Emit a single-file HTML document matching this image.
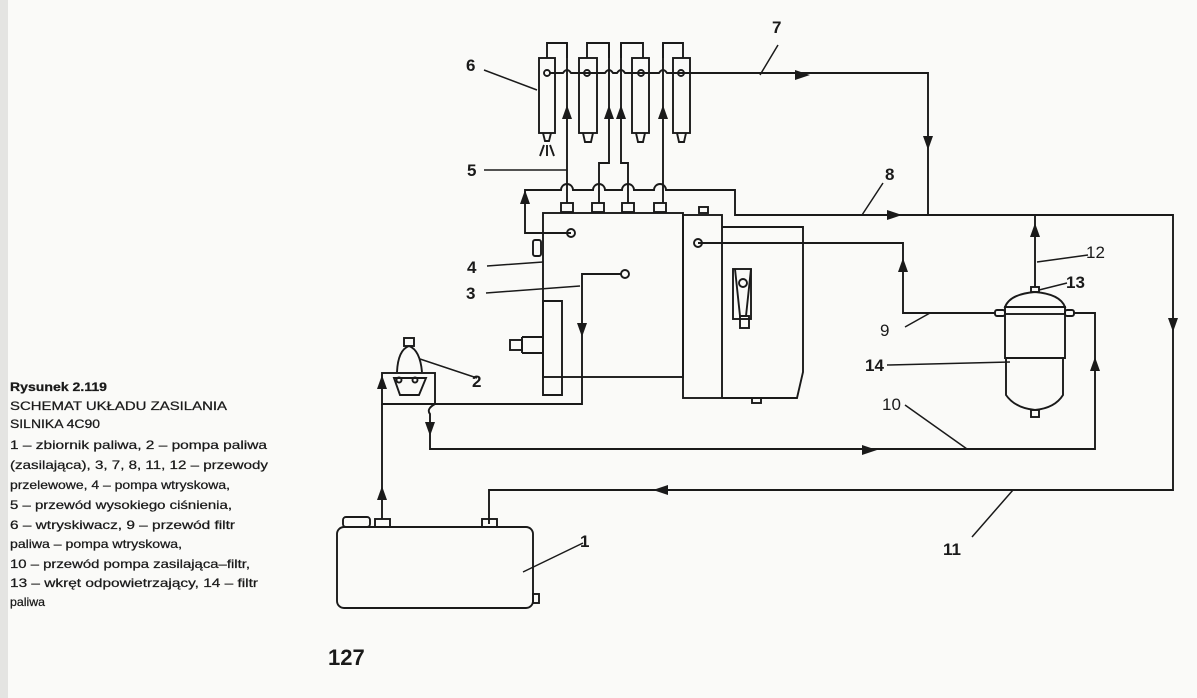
<!DOCTYPE html>
<html><head><meta charset="utf-8"><style>
html,body{margin:0;padding:0;background:#fafaf8;}
svg{display:block;}
text{font-family:"Liberation Sans",sans-serif;fill:#1a1a1a;}
</style></head><body>
<svg width="1197" height="698" viewBox="0 0 1197 698" xmlns="http://www.w3.org/2000/svg">
<rect x="0" y="0" width="1197" height="698" fill="#fafaf8"/>
<rect x="0" y="0" width="8" height="698" fill="#e4e4e2"/>
<g fill="none" stroke="#1a1a1a" stroke-width="1.9">
<!-- injectors -->
<rect x="539" y="58" width="16" height="75"/>
<rect x="579" y="58" width="18" height="75"/>
<rect x="632" y="58" width="17" height="75"/>
<rect x="673" y="58" width="17" height="75"/>
<path d="M543,133 L545,141 L549,141 L551,133 M544,145 L540,156 M547,145 L547,156 M550,145 L554,156"/>
<path d="M583,133 L585,142 L591,142 L593,133"/>
<path d="M636,133 L638,142 L643,142 L645,133"/>
<path d="M677,133 L679,142 L684,142 L686,133"/>
<path d="M547,58 V43 H567 V58 M587,58 V43 H609 V58 M621,58 V43 H643 V58 M663,58 V43 H683 V58"/>
<circle cx="547" cy="73" r="3"/><circle cx="587" cy="73" r="3"/><circle cx="641" cy="73" r="3"/><circle cx="681" cy="73" r="3"/>
<path d="M550,73 H563 Q567,67 571,73 H605 Q609,67 613,73 H617 Q621,67 625,73 H659 Q663,67 667,73 H928 V215"/>
<path d="M567,43 V203"/>
<path d="M609,43 V163 H599 V203"/>
<path d="M621,43 V163 H628 V203"/>
<path d="M663,43 V203"/>
<rect x="561" y="203" width="12" height="9"/><rect x="592" y="203" width="12" height="9"/><rect x="622" y="203" width="12" height="9"/><rect x="654" y="203" width="12" height="9"/>
<path d="M571,233 H525 V190 H561 A6,6 0 0 1 573,190 H593 A6,6 0 0 1 605,190 H622 A6,6 0 0 1 634,190 H654 A6,6 0 0 1 666,190 H735 V215 H1173 V490 H489 V524"/>
<rect x="543" y="213" width="140" height="164"/>
<path d="M543,301 H562 V395 H543 Z"/>
<rect x="683" y="215" width="39" height="183"/>
<path d="M722,227 H803 V372 L797,398 H722"/>
<rect x="699" y="207" width="9" height="6"/>
<rect x="752" y="398" width="9" height="5"/>
<rect x="733" y="269" width="18" height="50"/>
<path d="M735,269 L740,316 H746 L751,269"/>
<circle cx="743" cy="283" r="4"/>
<rect x="740" y="316" width="9" height="12"/>
<rect x="533" y="240" width="8" height="16" rx="2"/>
<rect x="510" y="340" width="12" height="10"/>
<path d="M522,337 H543 M522,353 H543 M522,337 V353"/>
<circle cx="571" cy="233" r="4"/>
<circle cx="698" cy="243" r="4"/>
<circle cx="625" cy="274" r="4"/>
<path d="M621,274 H582 V404 H383"/>
<rect x="382" y="373" width="53" height="31"/>
<path d="M394,378 L400,395 H419 L426,378 Z"/>
<path d="M397,372 Q398,350 409,346 Q420,350 422,372"/>
<rect x="404" y="338" width="10" height="8"/>
<circle cx="399" cy="380" r="2.5"/><circle cx="415" cy="380" r="2.5"/>
<path d="M382,519 V404"/>
<path d="M435,404 Q426,409 430,414 V449 H1095 V313 H1073"/>
<path d="M698,243 H903 V313 H995"/>
<path d="M1005,307 Q1010,294 1035,292 Q1060,294 1065,307 Z"/>
<rect x="1005" y="307" width="60" height="7"/>
<path d="M1005,314 V358 H1065 V314 M1006,358 V395 Q1015,408 1035,410 Q1055,408 1063,395 V358"/>
<rect x="1031" y="287" width="8" height="5"/>
<rect x="1031" y="410" width="8" height="7"/>
<rect x="995" y="310" width="10" height="6" rx="2"/>
<rect x="1065" y="310" width="9" height="6" rx="2"/>
<path d="M1035,287 V215"/>
<rect x="337" y="527" width="196" height="81" rx="7"/>
<rect x="343" y="517" width="27" height="10" rx="3"/>
<rect x="375" y="519" width="15" height="8"/>
<rect x="482" y="519" width="15" height="8"/>
<rect x="533" y="594" width="6" height="9"/>
</g>
<g fill="none" stroke="#1a1a1a" stroke-width="1.5">
<path d="M484,70 L537,90 M484,170 L567,170 M487,266 L543,262 M486,293 L580,286 M477,378 L420,359 M583,543 L523,572 M778,45 L760,75 M883,183 L862,215 M1088,255 L1037,262 M1067,283 L1039,290 M905,327 L930,313 M887,365 L1010,362 M905,405 L967,449 M972,537 L1013,490"/>
</g>
<g fill="#1a1a1a">
<path d="M810,75 l-15,-5 v10 z"/>
<path d="M928,150 l-5,-14 h10 z"/>
<path d="M902,215 l-15,-5 v10 z"/>
<path d="M567,105 l-5,14 h10 z"/><path d="M609,105 l-5,14 h10 z"/><path d="M621,105 l-5,14 h10 z"/><path d="M663,105 l-5,14 h10 z"/>
<path d="M525,190 l-5,14 h10 z"/>
<path d="M582,337 l-5,-14 h10 z"/>
<path d="M382,375 l-5,14 h10 z"/>
<path d="M382,486 l-5,14 h10 z"/>
<path d="M430,436 l-5,-14 h10 z"/>
<path d="M877,450 l-15,-5 v10 z"/>
<path d="M1095,357 l-5,14 h10 z"/>
<path d="M903,258 l-5,14 h10 z"/>
<path d="M1035,223 l-5,14 h10 z"/>
<path d="M1173,332 l-5,-14 h10 z"/>
<path d="M653,490 l15,-5 v10 z"/>
</g>
<g font-size="17" font-weight="bold">
<text x="466" y="71">6</text>
<text x="467" y="176">5</text>
<text x="467" y="273">4</text>
<text x="466" y="299">3</text>
<text x="472" y="387">2</text>
<text x="772" y="33">7</text>
<text x="885" y="180">8</text>
<text x="1086" y="258" font-weight="normal">12</text>
<text x="1066" y="288">13</text>
<text x="880" y="336" font-weight="normal">9</text>
<text x="865" y="371">14</text>
<text x="882" y="410" font-weight="normal">10</text>
<text x="943" y="555">11</text>
<text x="580" y="547">1</text>
<text x="328" y="665" font-size="22">127</text>
</g>
<g font-size="12" stroke="#1a1a1a" stroke-width="0.25">
<text x="10" y="391" font-weight="bold" textLength="97" lengthAdjust="spacingAndGlyphs">Rysunek 2.119</text>
<text x="10" y="410" textLength="217" lengthAdjust="spacingAndGlyphs">SCHEMAT UKŁADU ZASILANIA</text>
<text x="10" y="428" textLength="90" lengthAdjust="spacingAndGlyphs">SILNIKA 4C90</text>
<text x="10" y="449" textLength="257" lengthAdjust="spacingAndGlyphs">1 – zbiornik paliwa, 2 – pompa paliwa</text>
<text x="10" y="469" textLength="258" lengthAdjust="spacingAndGlyphs">(zasilająca), 3, 7, 8, 11, 12 – przewody</text>
<text x="10" y="489" textLength="220" lengthAdjust="spacingAndGlyphs">przelewowe, 4 – pompa wtryskowa,</text>
<text x="10" y="509" textLength="222" lengthAdjust="spacingAndGlyphs">5 – przewód wysokiego ciśnienia,</text>
<text x="10" y="529" textLength="225" lengthAdjust="spacingAndGlyphs">6 – wtryskiwacz, 9 – przewód filtr</text>
<text x="10" y="548" textLength="172" lengthAdjust="spacingAndGlyphs">paliwa – pompa wtryskowa,</text>
<text x="10" y="568" textLength="240" lengthAdjust="spacingAndGlyphs">10 – przewód pompa zasilająca–filtr,</text>
<text x="10" y="587" textLength="248" lengthAdjust="spacingAndGlyphs">13 – wkręt odpowietrzający, 14 – filtr</text>
<text x="10" y="606" textLength="35" lengthAdjust="spacingAndGlyphs">paliwa</text>
</g>
</svg>
</body></html>
